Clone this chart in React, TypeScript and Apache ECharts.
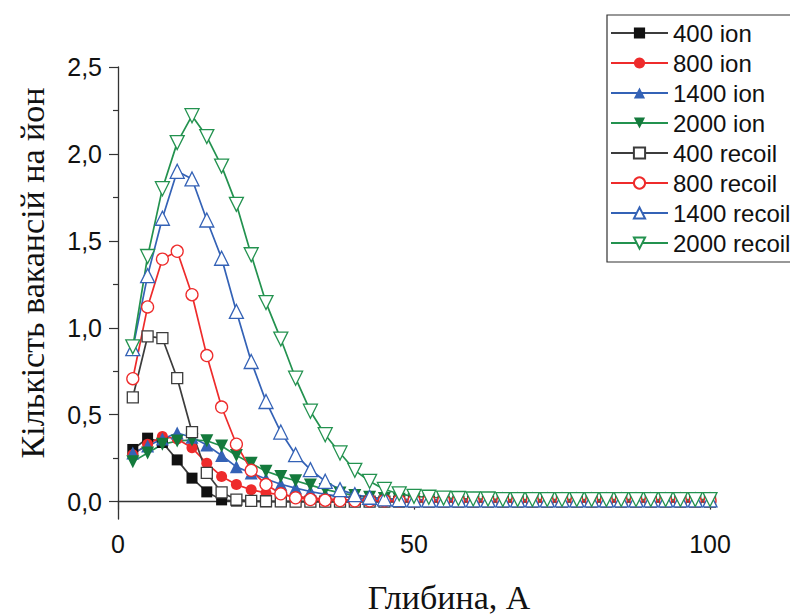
import React, { useEffect, useRef } from "react";
import * as echarts from "echarts";

const depth = [
  2.5, 5, 7.5, 10, 12.5, 15, 17.5, 20, 22.5, 25,
  27.5, 30, 32.5, 35, 37.5, 40, 42.5, 45, 47.5, 50,
  52.5, 55, 57.5, 60, 62.5, 65, 67.5, 70, 72.5, 75,
  77.5, 80, 82.5, 85, 87.5, 90, 92.5, 95, 97.5, 100,
];

const ion400 = [
  0.30, 0.365, 0.34, 0.24, 0.135, 0.056, 0.01, 0.003, 0.001, 0.0,
  0, 0, 0, 0, 0, 0, 0, 0, 0, 0,
  0, 0, 0, 0, 0, 0, 0, 0, 0, 0,
  0, 0, 0, 0, 0, 0, 0, 0, 0, 0,
];
const ion800 = [
  0.27, 0.33, 0.375, 0.36, 0.31, 0.22, 0.145, 0.098, 0.068, 0.05,
  0.04, 0.03, 0.022, 0.016, 0.012, 0.01, 0.008, 0.006, 0.005, 0.005,
  0.005, 0.005, 0.005, 0.005, 0.005, 0.005, 0.005, 0.005, 0.005, 0.005,
  0.005, 0.005, 0.005, 0.005, 0.005, 0.005, 0.005, 0.005, 0.005, 0.005,
];
const ion1400 = [
  0.28, 0.32, 0.36, 0.395, 0.37, 0.325, 0.265, 0.2, 0.165, 0.13,
  0.1, 0.078, 0.058, 0.042, 0.03, 0.022, 0.016, 0.012, 0.01, 0.008,
  0.007, 0.007, 0.007, 0.007, 0.007, 0.007, 0.007, 0.007, 0.007, 0.007,
  0.007, 0.007, 0.007, 0.007, 0.007, 0.007, 0.007, 0.007, 0.007, 0.007,
];
const ion2000 = [
  0.23, 0.28, 0.33, 0.348, 0.355, 0.35, 0.32, 0.265, 0.22, 0.175,
  0.145, 0.12, 0.095, 0.07, 0.05, 0.035, 0.025, 0.018, 0.014, 0.012,
  0.01, 0.01, 0.01, 0.01, 0.01, 0.01, 0.01, 0.01, 0.01, 0.01,
  0.01, 0.01, 0.01, 0.01, 0.01, 0.01, 0.01, 0.01, 0.01, 0.01,
];
const rec400 = [
  0.60, 0.95, 0.94, 0.71, 0.40, 0.165, 0.053, 0.012, 0.004, 0.002,
  0.001, 0, 0, 0, 0, 0, 0, 0, 0, 0,
  0, 0, 0, 0, 0, 0, 0, 0, 0, 0,
  0, 0, 0, 0, 0, 0, 0, 0, 0, 0,
];
const rec800 = [
  0.707, 1.12, 1.395, 1.44, 1.19, 0.84, 0.544, 0.33, 0.18, 0.098,
  0.045, 0.022, 0.012, 0.008, 0.006, 0.005, 0.005, 0.005, 0.005, 0.005,
  0.005, 0.005, 0.005, 0.005, 0.005, 0.005, 0.005, 0.005, 0.005, 0.005,
  0.005, 0.005, 0.005, 0.005, 0.005, 0.005, 0.005, 0.005, 0.005, 0.005,
];
const rec1400 = [
  0.88, 1.30, 1.63, 1.90, 1.856, 1.62, 1.40, 1.094, 0.806, 0.576,
  0.40, 0.27, 0.184, 0.117, 0.069, 0.04, 0.025, 0.016, 0.012, 0.01,
  0.01, 0.01, 0.01, 0.01, 0.01, 0.01, 0.01, 0.01, 0.01, 0.01,
  0.01, 0.01, 0.01, 0.01, 0.01, 0.01, 0.01, 0.01, 0.01, 0.01,
];
const rec2000 = [
  0.89, 1.41, 1.80, 2.065, 2.22, 2.10, 1.93, 1.71, 1.42, 1.145,
  0.935, 0.71, 0.52, 0.385, 0.28, 0.18, 0.117, 0.07, 0.045, 0.03,
  0.025, 0.02, 0.018, 0.015, 0.015, 0.012, 0.012, 0.012, 0.012, 0.012,
  0.012, 0.012, 0.012, 0.012, 0.012, 0.012, 0.012, 0.012, 0.012, 0.012,
];

const seriesNames = [
  "400 ion", "800 ion", "1400 ion", "2000 ion",
  "400 recoil", "800 recoil", "1400 recoil", "2000 recoil",
];
const yMajorTicks = [0, 0.5, 1.0, 1.5, 2.0, 2.5];
const yMinorTicks = [0.25, 0.75, 1.25, 1.75, 2.25];
const xTitle = "Глибина, А";
const yTitle = "Кількість вакансій на йон";

const BLACK = "#111111";
const BLACK_LINE = "#3c3c3c";
const RED = "#ee2b2b";
const BLUE = "#3462b6";
const GREEN = "#23924f";
const GREEN_FILL = "#147a3c";

export default function App() {
  const ref = useRef<HTMLDivElement>(null);
  useEffect(() => {
    if (!ref.current) return;
    const chart = echarts.init(ref.current, null, { renderer: "svg" });
    const pairs = (vals: number[]) => depth.map((d, i) => [d, vals[i]]);
    const mk = (
      name: string,
      vals: number[],
      lineColor: string,
      markColor: string,
      symbol: string,
      size: number,
      filled: boolean,
      rotate = 0
    ) => ({
      type: "line",
      name,
      data: pairs(vals),
      symbol,
      symbolSize: size,
      symbolRotate: rotate,
      showAllSymbol: true,
      clip: false,
      lineStyle: { color: lineColor, width: 1.7 },
      itemStyle: filled
        ? { color: markColor, borderColor: markColor, borderWidth: 0 }
        : { color: "#ffffff", borderColor: lineColor, borderWidth: 1.3 },
      emphasis: { disabled: true },
    });
    const font = "'Liberation Sans', Arial, sans-serif";
    const serif = "'Liberation Serif', 'Times New Roman', serif";
    chart.setOption({
      animation: false,
      backgroundColor: "#ffffff",
      grid: { left: 118, right: 80, top: 67, bottom: 96 },
      xAxis: {
        type: "value",
        min: 0,
        max: 100,
        interval: 50,
        axisLine: { show: true, lineStyle: { color: "#333", width: 1.3 } },
        axisTick: { show: true, length: 8, lineStyle: { color: "#333", width: 1.2 } },
        minorTick: { show: true, splitNumber: 2, length: 5, lineStyle: { color: "#333", width: 1.2 } },
        splitLine: { show: false },
        axisLabel: { fontSize: 25, color: "#111", fontFamily: font, margin: 12 },
      },
      yAxis: [
        {
          type: "value",
          min: -0.1,
          max: 2.5,
          axisLine: { show: true, onZero: false, lineStyle: { color: "#333", width: 1.3 } },
          axisTick: { show: true, length: 9, customValues: yMajorTicks, lineStyle: { color: "#333", width: 1.2 } },
          splitLine: { show: false },
          axisLabel: {
            fontSize: 25,
            color: "#111",
            fontFamily: font,
            margin: 16,
            customValues: yMajorTicks,
            formatter: (v: number) => v.toFixed(1).replace(".", ","),
          },
        },
        {
          type: "value",
          min: -0.1,
          max: 2.5,
          position: "left",
          axisLine: { show: false },
          axisTick: { show: true, length: 5, customValues: yMinorTicks, lineStyle: { color: "#333", width: 1.2 } },
          axisLabel: { show: false },
          splitLine: { show: false },
        },
      ],
      legend: {
        orient: "vertical",
        left: 607,
        top: 15,
        data: seriesNames,
        itemWidth: 57,
        itemHeight: 14,
        itemGap: 6,
        padding: [6, 30, 7, 3],
        borderColor: "#333",
        borderWidth: 1.2,
        backgroundColor: "#fff",
        textStyle: { fontSize: 24, color: "#111", fontFamily: font, lineHeight: 24 },
        selectedMode: false,
      },
      graphic: [
        {
          type: "text",
          x: 32,
          y: 273,
          rotation: Math.PI / 2,
          style: {
            text: yTitle,
            fontSize: 34,
            fontFamily: serif,
            fill: "#111",
            align: "center",
            verticalAlign: "middle",
          },
        },
        {
          type: "text",
          x: 449,
          y: 597,
          style: {
            text: xTitle,
            fontSize: 34,
            fontFamily: serif,
            fill: "#111",
            align: "center",
            verticalAlign: "middle",
          },
        },
      ],
      series: [
        mk(seriesNames[0], ion400, BLACK_LINE, BLACK, "rect", 11, true),
        mk(seriesNames[1], ion800, RED, RED, "circle", 11, true),
        mk(seriesNames[2], ion1400, BLUE, BLUE, "triangle", 13, true),
        mk(seriesNames[3], ion2000, GREEN, GREEN_FILL, "triangle", 13, true, 180),
        mk(seriesNames[4], rec400, BLACK_LINE, BLACK, "rect", 11, false),
        mk(seriesNames[5], rec800, RED, RED, "circle", 12, false),
        mk(seriesNames[6], rec1400, BLUE, BLUE, "triangle", 14, false),
        mk(seriesNames[7], rec2000, GREEN, GREEN, "triangle", 14, false, 180),
      ],
    });
    return () => chart.dispose();
  }, []);
  return (
    <div
      ref={ref}
      style={{ position: "absolute", left: 0, top: 0, width: 790, height: 615 }}
    />
  );
}
